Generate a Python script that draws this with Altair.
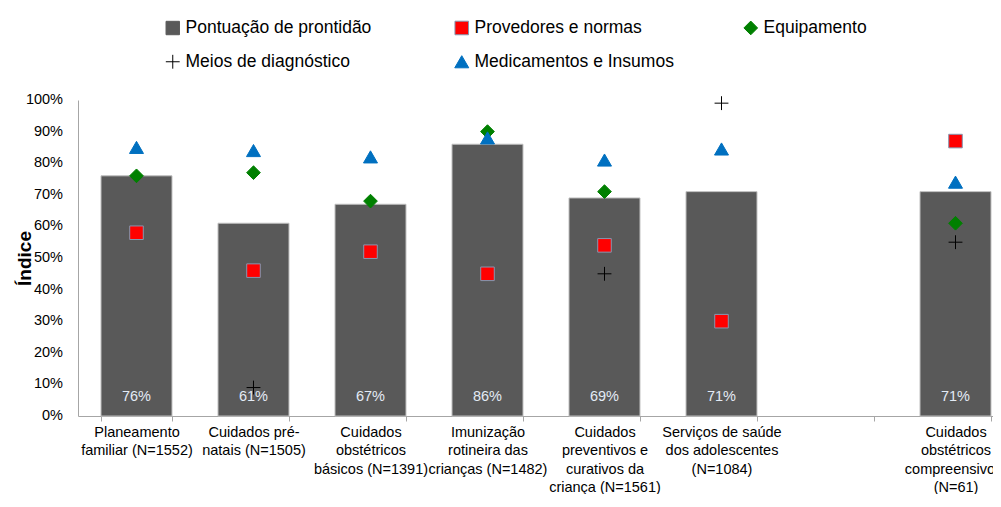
import altair as alt
import pandas as pd

categories = [
    "Planeamento|familiar (N=1552)",
    "Cuidados pré-|natais (N=1505)",
    "Cuidados|obstétricos|básicos (N=1391)",
    "Imunização|rotineira das|crianças (N=1482)",
    "Cuidados|preventivos e|curativos da|criança (N=1561)",
    "Serviços de saúde|dos adolescentes|(N=1084)",
    " ",
    "Cuidados|obstétricos|compreensivos¹|(N=61)",
]
prontidao = [76, 61, 67, 86, 69, 71, None, 71]
provedores = [58, 46, 52, 45, 54, 30, None, 87]
equipamento = [76, 77, 68, 90, 71, None, None, 61]
diagnostico = [None, 9, None, None, 45, 99, None, 55]
medicamentos = [85, 84, 82, 88, 81, 84.5, None, 74]
y_ticks = [0, 10, 20, 30, 40, 50, 60, 70, 80, 90, 100]

series_names = [
    "Pontuação de prontidão",
    "Provedores e normas",
    "Equipamento",
    "Meios de diagnóstico",
    "Medicamentos e Insumos",
]
fill_colors = ["#595959", "#ff0000", "#008000", "#000000", "#0070c0"]
stroke_colors = ["#595959", "#8497b0", "#008000", "#000000", "#0070c0"]
shapes = ["square", "square", "diamond", "M-1,0H1M0,-1V1", "triangle-up"]
sizes = [180, 196, 200, 256, 290]

bars = pd.DataFrame({"cat": categories, "value": prontidao}).dropna()
bars["label"] = bars["value"].map(lambda v: f"{v:.0f}%")

ticks_df = pd.DataFrame({"v": y_ticks})
ticks_df["label"] = ticks_df["v"].map(lambda v: f"{v}%")

rows = []
for name, vals in zip(series_names[1:], [provedores, equipamento, diagnostico, medicamentos]):
    for c, v in zip(categories, vals):
        if v is not None:
            rows.append({"cat": c, "value": v, "series": name})
points = pd.DataFrame(rows)

FONT = "Liberation Sans"

xscale = alt.Scale(domain=categories, paddingInner=0.3932, paddingOuter=0.10684, align=0.92)
yscale = alt.Scale(domain=[0, 100], nice=False)

xaxis = alt.Axis(
    title=None, labelAngle=0, labelExpr="split(datum.label, '|')",
    labelFont=FONT, labelFontSize=14.5, labelColor="#000000", labelLineHeight=18.5,
    labelPadding=4, labelLimit=0, tickBand="extent", tickSize=5, tickColor="#a6a6a6",
    domainColor="#a6a6a6", labelBaseline="top",
)
yaxis = alt.Axis(
    title="Índice", values=y_ticks, labels=False, ticks=False, grid=False,
    domainColor="#a6a6a6",
    titleFont=FONT, titleFontSize=19, titleFontWeight="bold", titleColor="#000000",
    titleAngle=270, titleX=-54, titleY=158, titleAlign="center", titleBaseline="middle",
)

legend = alt.Legend(
    title=None, orient="none", legendX=86, legendY=-81, columns=3, direction="horizontal",
    labelFont=FONT, labelFontSize=17.5, labelColor="#000000",
    symbolStrokeWidth=1, columnPadding=67, rowPadding=15, labelOffset=4, gridAlign="all",
    labelLimit=0,
)

bar = alt.Chart(bars).mark_bar(color="#595959", stroke="#bfbfbf", strokeWidth=1).encode(
    x=alt.X("cat:N", scale=xscale, axis=xaxis, sort=categories),
    y=alt.Y("value:Q", scale=yscale, axis=yaxis),
)

text = alt.Chart(bars).mark_text(
    font=FONT, fontSize=14.5, color="#e3ebf5", baseline="middle", dy=-19
).encode(
    x=alt.X("cat:N", scale=xscale, axis=xaxis, sort=categories),
    y=alt.YDatum(0, scale=yscale, axis=yaxis),
    text="label:N",
)

ylabels = alt.Chart(ticks_df).mark_text(
    font=FONT, fontSize=14.5, color="#000000", align="right", baseline="middle", dx=-15
).encode(
    x=alt.value(0),
    y=alt.Y("v:Q", scale=yscale, axis=yaxis),
    text="label:N",
)

pts = alt.Chart(points).mark_point(filled=True, opacity=1, strokeWidth=1).encode(
    x=alt.X("cat:N", scale=xscale, axis=xaxis, sort=categories),
    y=alt.Y("value:Q", scale=yscale, axis=yaxis),
    color=alt.Color("series:N", scale=alt.Scale(domain=series_names, range=fill_colors), legend=legend),
    stroke=alt.Stroke("series:N", scale=alt.Scale(domain=series_names, range=stroke_colors), legend=legend),
    shape=alt.Shape("series:N", scale=alt.Scale(domain=series_names, range=shapes), legend=legend),
    size=alt.Size("series:N", scale=alt.Scale(domain=series_names, range=sizes), legend=legend),
)

chart = alt.layer(bar, text, ylabels, pts).properties(
    width=915, height=316,
    autosize=alt.AutoSizeParams(type="none"),
    padding={"left": 70, "top": 92, "right": 0, "bottom": 78},
    background="#ffffff",
).configure_view(stroke=None)

chart.save("out.html", embed_options={"renderer": "svg", "actions": False})
